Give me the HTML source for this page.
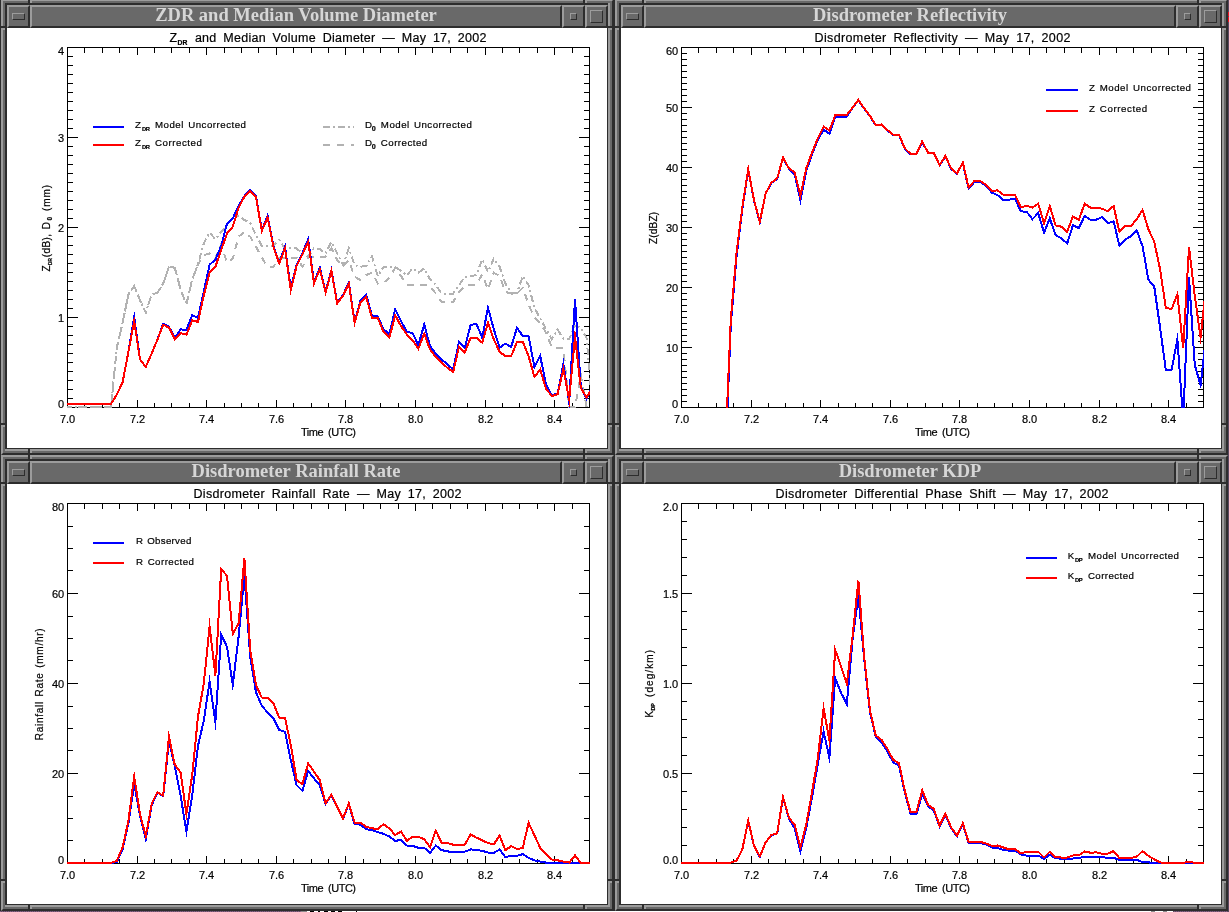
<!DOCTYPE html>
<html lang="en"><head><meta charset="utf-8"><title>Disdrometer plots</title>
<style>
html,body{margin:0;padding:0}
body{width:1229px;height:912px;overflow:hidden;position:relative;background:#2d2d2d;font-family:"Liberation Serif",serif}
.pg{position:absolute;left:0;top:0;width:1229px;height:912px;overflow:hidden;background:#2d2d2d}
.pb{position:absolute;left:0;top:911px;width:1229px;height:1px;background:repeating-linear-gradient(90deg,#865c86 0 1px,#5e525e 1px 2px)}
.pb i{position:absolute;top:0;height:1px;display:block}
.pr{position:absolute;left:1228px;top:0;width:1px;height:912px;background:#5a4860}
.pr i{position:absolute;left:0;width:1px;background:#f01020}
.win{position:absolute;width:613px;height:456px;background:#696969;box-sizing:border-box}
.win u{position:absolute;display:block;text-decoration:none}
/* outer bevel */
.win:before{content:"";position:absolute;left:0;top:0;right:0;bottom:0;box-sizing:border-box;border:2px solid;border-color:#9c9c9c #2d2d2d #2d2d2d #9c9c9c}
.tb{position:absolute;left:4px;top:4px;width:604px;height:25px;background:#2d2d2d;box-sizing:border-box}
.cl{position:absolute;left:6px;top:29px;width:600px;height:420px;background:#fff;overflow:hidden}
.cl svg{display:block}
.b{position:absolute;top:2px;height:23px;box-sizing:border-box;background:#696969;border:2px solid;border-color:#9c9c9c #2d2d2d #2d2d2d #9c9c9c}
.bm{left:2px;width:23px}
.tt{position:absolute;left:25px;right:47px;top:2px;height:23px;box-sizing:border-box;background:#696969;border:2px solid;border-color:#9c9c9c #2d2d2d #2d2d2d #9c9c9c;color:#d6d6d6;font-weight:bold;font-size:18.5px;line-height:19px;text-align:center;white-space:nowrap;overflow:hidden}
.tt span{display:inline-block;position:relative;top:-1px}
.bi{right:24px;width:23px}
.bx{right:1px;width:23px}
.b i{position:absolute;display:block;box-sizing:border-box;border:1px solid;border-color:#9c9c9c #2d2d2d #2d2d2d #9c9c9c}
.bm i{left:3px;top:6px;width:13px;height:7px}
.bi i{left:6px;top:6px;width:7px;height:7px}
.bx i{left:3px;top:3px;width:13px;height:13px}
/* inner bevel around client: right & bottom light/dark lines */
.h1{left:6px;top:449px;width:601px;height:1px;background:#2d2d2d}
.h2{left:4px;top:450px;width:605px;height:2px;background:#9c9c9c}
.v1{left:606px;top:29px;width:1px;height:421px;background:#2d2d2d}
.v2{left:607px;top:4px;width:2px;height:448px;background:#9c9c9c}
.h3{left:4px;top:4px;width:605px;height:2px;background:#2d2d2d}
.v3{left:4px;top:4px;width:2px;height:446px;background:#2d2d2d}
.s{background:#2d2d2d}
.s:after{content:"";position:absolute;background:#9c9c9c}
.st{top:0;width:2px;height:6px} .st:after{left:2px;top:0;width:2px;height:4px}
.sb{top:450px;width:2px;height:6px} .sb:after{left:2px;top:0;width:2px;height:4px}
.sl{left:0;width:6px;height:2px} .sl:after{left:0;top:2px;width:4px;height:2px}
.sr{left:607px;width:6px;height:2px} .sr:after{left:0;top:2px;width:4px;height:2px}

</style></head><body><div class="pg">
<div style="position:absolute;left:0;top:0;width:1px;height:912px;background:#2d2d2d"></div>
<div class="win" style="left:1px;top:-1px">
<div class="tb"><div class="b bm"><i></i></div><div class="tt"><span>ZDR and Median Volume Diameter</span></div><div class="b bi"><i></i></div><div class="b bx"><i></i></div></div>
<div class="cl"><svg width="600" height="420" viewBox="0 0 600 420" font-family='"Liberation Sans", sans-serif' fill="#000" stroke="#000" stroke-width="0.2">
<clipPath id="c0"><rect x="60" y="19" width="523" height="361"/></clipPath>
<g shape-rendering="crispEdges" stroke="#000" stroke-width="1" fill="none">
<rect x="60.5" y="19.5" width="522" height="360"/>
<path d="M60.5 379.5v-7.5M60.5 19.5v7.5M77.5 379.5v-5M77.5 19.5v5M95.5 379.5v-5M95.5 19.5v5M112.5 379.5v-5M112.5 19.5v5M130.5 379.5v-7.5M130.5 19.5v7.5M147.5 379.5v-5M147.5 19.5v5M164.5 379.5v-5M164.5 19.5v5M182.5 379.5v-5M182.5 19.5v5M199.5 379.5v-7.5M199.5 19.5v7.5M217.5 379.5v-5M217.5 19.5v5M234.5 379.5v-5M234.5 19.5v5M251.5 379.5v-5M251.5 19.5v5M269.5 379.5v-7.5M269.5 19.5v7.5M286.5 379.5v-5M286.5 19.5v5M304.5 379.5v-5M304.5 19.5v5M321.5 379.5v-5M321.5 19.5v5M338.5 379.5v-7.5M338.5 19.5v7.5M356.5 379.5v-5M356.5 19.5v5M373.5 379.5v-5M373.5 19.5v5M391.5 379.5v-5M391.5 19.5v5M408.5 379.5v-7.5M408.5 19.5v7.5M425.5 379.5v-5M425.5 19.5v5M443.5 379.5v-5M443.5 19.5v5M460.5 379.5v-5M460.5 19.5v5M478.5 379.5v-7.5M478.5 19.5v7.5M495.5 379.5v-5M495.5 19.5v5M512.5 379.5v-5M512.5 19.5v5M530.5 379.5v-5M530.5 19.5v5M547.5 379.5v-7.5M547.5 19.5v7.5M565.5 379.5v-5M565.5 19.5v5M582.5 379.5v-5M582.5 19.5v5M60.5 379.5h10.5M582.5 379.5h-10.5M60.5 370.5h5.5M582.5 370.5h-5.5M60.5 361.5h5.5M582.5 361.5h-5.5M60.5 352.5h5.5M582.5 352.5h-5.5M60.5 343.5h5.5M582.5 343.5h-5.5M60.5 334.5h5.5M582.5 334.5h-5.5M60.5 325.5h5.5M582.5 325.5h-5.5M60.5 316.5h5.5M582.5 316.5h-5.5M60.5 307.5h5.5M582.5 307.5h-5.5M60.5 298.5h5.5M582.5 298.5h-5.5M60.5 289.5h10.5M582.5 289.5h-10.5M60.5 280.5h5.5M582.5 280.5h-5.5M60.5 271.5h5.5M582.5 271.5h-5.5M60.5 262.5h5.5M582.5 262.5h-5.5M60.5 253.5h5.5M582.5 253.5h-5.5M60.5 244.5h5.5M582.5 244.5h-5.5M60.5 235.5h5.5M582.5 235.5h-5.5M60.5 226.5h5.5M582.5 226.5h-5.5M60.5 217.5h5.5M582.5 217.5h-5.5M60.5 208.5h5.5M582.5 208.5h-5.5M60.5 199.5h10.5M582.5 199.5h-10.5M60.5 190.5h5.5M582.5 190.5h-5.5M60.5 181.5h5.5M582.5 181.5h-5.5M60.5 172.5h5.5M582.5 172.5h-5.5M60.5 163.5h5.5M582.5 163.5h-5.5M60.5 154.5h5.5M582.5 154.5h-5.5M60.5 145.5h5.5M582.5 145.5h-5.5M60.5 136.5h5.5M582.5 136.5h-5.5M60.5 127.5h5.5M582.5 127.5h-5.5M60.5 118.5h5.5M582.5 118.5h-5.5M60.5 109.5h10.5M582.5 109.5h-10.5M60.5 100.5h5.5M582.5 100.5h-5.5M60.5 91.5h5.5M582.5 91.5h-5.5M60.5 82.5h5.5M582.5 82.5h-5.5M60.5 73.5h5.5M582.5 73.5h-5.5M60.5 64.5h5.5M582.5 64.5h-5.5M60.5 55.5h5.5M582.5 55.5h-5.5M60.5 46.5h5.5M582.5 46.5h-5.5M60.5 37.5h5.5M582.5 37.5h-5.5M60.5 28.5h5.5M582.5 28.5h-5.5M60.5 19.5h10.5M582.5 19.5h-10.5"/>
</g>
<g clip-path="url(#c0)">
<path d="M57.6 379.0L63.4 379.0L69.2 379.0L75.0 379.0L80.8 379.0L86.6 379.0L92.4 379.0L98.2 379.0L104.0 379.0L109.8 319.7L115.6 294.7L121.4 266.4L127.2 258.0L133.0 272.2L138.8 284.7L144.6 266.4L150.4 265.0L156.2 255.5L162.0 238.8L167.8 239.7L173.6 261.4L179.4 276.4L185.2 251.4L191.0 236.3L196.8 215.4L202.6 204.6L208.4 211.2L214.2 203.7L220.0 197.0L225.8 189.5L231.6 187.9L237.4 192.0L243.2 195.0L249.0 207.1L254.8 217.9L260.6 217.9L266.4 217.9L272.2 212.1L278.0 220.4L283.8 220.4L289.6 220.4L295.4 225.4L301.2 228.7L307.0 220.4L312.8 221.2L318.6 225.4L324.4 214.0L330.2 225.4L336.0 237.1L341.8 220.4L347.6 237.1L353.4 238.7L359.2 237.9L365.0 228.5L370.8 248.0L376.6 238.8L382.4 238.8L388.2 238.8L394.0 243.0L399.8 247.2L405.6 240.5L411.4 244.7L417.2 240.5L423.0 251.4L428.8 257.2L434.6 265.5L440.4 265.5L446.2 265.5L452.0 257.2L457.8 248.9L463.6 248.0L469.4 247.2L475.2 231.3L481.0 243.8L486.8 230.5L492.6 238.8L498.4 255.5L504.2 264.7L510.0 264.7L515.8 248.0L521.6 257.2L527.4 279.7L533.2 290.6L539.0 300.6L544.8 311.4L550.6 301.5L556.4 311.0L562.2 311.0L568.0 297.5L573.8 300.0L579.6 310.0L585.4 379.0" fill="none" stroke="#b2b2b2" stroke-width="2" stroke-linejoin="miter" stroke-miterlimit="10.4" shape-rendering="crispEdges" stroke-dasharray="7 3 2 3"/>
<path d="M57.6 379.0L63.4 379.0L69.2 379.0L75.0 379.0L80.8 379.0L86.6 379.0L92.4 379.0L98.2 379.0L104.0 379.0L109.8 319.7L115.6 294.7L121.4 266.4L127.2 258.0L133.0 272.2L138.8 284.7L144.6 266.4L150.4 265.0L156.2 255.5L162.0 238.8L167.8 239.7L173.6 261.4L179.4 276.4L185.2 251.4L191.0 236.3L196.8 227.1L202.6 225.4L208.4 230.4L214.2 216.2L220.0 234.6L225.8 230.4L231.6 208.7L237.4 203.7L243.2 208.7L249.0 218.7L254.8 229.6L260.6 238.7L266.4 238.7L272.2 229.6L278.0 229.6L283.8 229.6L289.6 229.6L295.4 238.7L301.2 229.6L307.0 228.7L312.8 228.7L318.6 228.7L324.4 220.4L330.2 232.1L336.0 238.7L341.8 232.1L347.6 248.8L353.4 252.1L359.2 247.1L365.0 244.7L370.8 255.5L376.6 254.7L382.4 249.7L388.2 239.7L394.0 248.0L399.8 256.7L405.6 256.7L411.4 256.7L417.2 256.7L423.0 258.0L428.8 265.5L434.6 273.9L440.4 273.9L446.2 273.9L452.0 263.9L457.8 258.0L463.6 256.7L469.4 256.7L475.2 246.3L481.0 261.4L486.8 244.7L492.6 248.0L498.4 263.9L504.2 265.5L510.0 265.5L515.8 259.7L521.6 276.4L527.4 289.7L533.2 294.7L539.0 304.7L544.8 319.4L550.6 319.9L556.4 320.5L562.2 379.0L568.0 379.0L573.8 347.0L579.6 379.0L585.4 379.0" fill="none" stroke="#b2b2b2" stroke-width="2" stroke-linejoin="miter" stroke-miterlimit="10.4" shape-rendering="crispEdges" stroke-dasharray="7 6"/>
<path d="M57.6 376.0L63.4 376.0L69.2 376.0L75.0 376.0L80.8 376.0L86.6 376.0L92.4 376.0L98.2 376.0L104.0 376.0L109.8 366.6L115.6 354.3L121.4 323.9L127.2 288.9L133.0 331.4L138.8 338.9L144.6 325.6L150.4 311.7L156.2 295.6L162.0 298.9L167.8 309.7L173.6 301.4L179.4 301.9L185.2 287.3L191.0 289.8L196.8 263.4L202.6 236.7L208.4 231.7L214.2 217.9L220.0 195.7L225.8 190.4L231.6 177.9L237.4 168.0L243.2 162.0L249.0 168.0L254.8 202.0L260.6 187.9L266.4 217.9L272.2 234.6L278.0 218.7L283.8 260.4L289.6 237.1L295.4 225.1L301.2 211.2L307.0 254.1L312.8 239.6L318.6 263.8L324.4 242.1L330.2 274.9L336.0 267.1L341.8 254.6L347.6 293.8L353.4 272.9L359.2 266.8L365.0 288.0L370.8 288.4L376.6 301.4L382.4 306.1L388.2 281.4L394.0 293.0L399.8 303.9L405.6 305.1L411.4 317.2L417.2 296.4L423.0 318.1L428.8 325.6L434.6 331.4L440.4 336.4L446.2 341.4L452.0 313.9L457.8 319.7L463.6 297.2L469.4 295.6L475.2 309.7L481.0 279.7L486.8 301.4L492.6 319.7L498.4 315.6L504.2 318.9L510.0 299.7L515.8 308.1L521.6 308.1L527.4 338.9L533.2 328.1L539.0 356.4L544.8 367.3L550.6 365.6L556.4 336.0L562.2 374.5L568.0 271.0L573.8 358.5L579.6 371.0L585.4 358.0" fill="none" stroke="#0000ff" stroke-width="2" stroke-linejoin="miter" stroke-miterlimit="10.4" shape-rendering="crispEdges"/>
<path d="M57.6 376.0L63.4 376.0L69.2 376.0L75.0 376.0L80.8 376.0L86.6 376.0L92.4 376.0L98.2 376.0L104.0 376.0L109.8 366.6L115.6 354.3L121.4 323.9L127.2 293.1L133.0 331.4L138.8 338.9L144.6 325.6L150.4 311.7L156.2 296.7L162.0 299.7L167.8 310.9L173.6 305.1L179.4 306.7L185.2 292.2L191.0 293.9L196.8 267.4L202.6 244.6L208.4 238.7L214.2 222.1L220.0 205.4L225.8 198.7L231.6 179.5L237.4 168.7L243.2 162.9L249.0 168.7L254.8 202.9L260.6 189.5L266.4 218.7L272.2 235.4L278.0 220.4L283.8 262.1L289.6 237.9L295.4 226.2L301.2 213.7L307.0 255.4L312.8 241.2L318.6 264.6L324.4 242.9L330.2 275.4L336.0 267.9L341.8 255.4L347.6 294.6L353.4 274.6L359.2 268.8L365.0 290.0L370.8 290.2L376.6 303.9L382.4 309.7L388.2 287.2L394.0 298.1L399.8 306.4L405.6 312.2L411.4 320.6L417.2 305.6L423.0 321.4L428.8 328.9L434.6 334.8L440.4 339.8L446.2 343.9L452.0 318.9L457.8 324.4L463.6 309.7L469.4 309.7L475.2 314.7L481.0 294.7L486.8 311.4L492.6 323.9L498.4 328.1L504.2 328.1L510.0 313.9L515.8 313.9L521.6 328.1L527.4 348.9L533.2 341.4L539.0 360.6L544.8 368.1L550.6 366.1L556.4 341.0L562.2 371.5L568.0 308.5L573.8 359.9L579.6 369.4L585.4 360.0" fill="none" stroke="#ff0000" stroke-width="2" stroke-linejoin="miter" stroke-miterlimit="10.4" shape-rendering="crispEdges"/>
</g>
<text x="162.5" y="14" font-size="12.5" text-anchor="start">Z</text>
<text x="170.5" y="17" font-size="6.8" text-anchor="start" font-weight="bold">DR</text>
<text x="187.9" y="14" font-size="12.5" text-anchor="start" textLength="291.5" lengthAdjust="spacing" word-spacing="3.0">and Median Volume Diameter — May 17, 2002</text>
<text x="60.5" y="395" font-size="11" text-anchor="middle" textLength="15" lengthAdjust="spacing">7.0</text>
<text x="130.5" y="395" font-size="11" text-anchor="middle" textLength="15" lengthAdjust="spacing">7.2</text>
<text x="199.5" y="395" font-size="11" text-anchor="middle" textLength="15" lengthAdjust="spacing">7.4</text>
<text x="269.5" y="395" font-size="11" text-anchor="middle" textLength="15" lengthAdjust="spacing">7.6</text>
<text x="338.5" y="395" font-size="11" text-anchor="middle" textLength="15" lengthAdjust="spacing">7.8</text>
<text x="408.5" y="395" font-size="11" text-anchor="middle" textLength="15" lengthAdjust="spacing">8.0</text>
<text x="478.5" y="395" font-size="11" text-anchor="middle" textLength="15" lengthAdjust="spacing">8.2</text>
<text x="547.5" y="395" font-size="11" text-anchor="middle" textLength="15" lengthAdjust="spacing">8.4</text>
<text x="321.5" y="408" font-size="11" text-anchor="middle" textLength="55" lengthAdjust="spacing" word-spacing="2.5">Time (UTC)</text>
<text x="57" y="380.0" font-size="11" text-anchor="end" textLength="6" lengthAdjust="spacing">0</text>
<text x="57" y="294.0" font-size="11" text-anchor="end" textLength="6" lengthAdjust="spacing">1</text>
<text x="57" y="204.0" font-size="11" text-anchor="end" textLength="6" lengthAdjust="spacing">2</text>
<text x="57" y="114.0" font-size="11" text-anchor="end" textLength="6" lengthAdjust="spacing">3</text>
<text x="57" y="27.0" font-size="11" text-anchor="end" textLength="6" lengthAdjust="spacing">4</text>
<path d="M86 99H117" stroke="#0000ff" stroke-width="2" fill="none" shape-rendering="crispEdges"/>
<path d="M86 117H117" stroke="#ff0000" stroke-width="2" fill="none" shape-rendering="crispEdges"/>
<text x="128" y="100" font-size="9.7" text-anchor="start">Z</text>
<text x="135" y="102.5" font-size="5.8" text-anchor="start" textLength="8" lengthAdjust="spacing" font-weight="bold">DR</text>
<text x="148" y="100" font-size="9.7" text-anchor="start" textLength="91" lengthAdjust="spacing" word-spacing="1.0">Model Uncorrected</text>
<text x="128" y="118" font-size="9.7" text-anchor="start">Z</text>
<text x="135" y="120.5" font-size="5.8" text-anchor="start" textLength="8" lengthAdjust="spacing" font-weight="bold">DR</text>
<text x="148" y="118" font-size="9.7" text-anchor="start" textLength="46.8" lengthAdjust="spacing">Corrected</text>
<path d="M316 99H347" stroke="#b2b2b2" stroke-width="2" fill="none" shape-rendering="crispEdges" stroke-dasharray="7 3 2 3"/>
<path d="M316 117H347" stroke="#b2b2b2" stroke-width="2" fill="none" shape-rendering="crispEdges" stroke-dasharray="7 7"/>
<text x="358" y="100" font-size="9.7" text-anchor="start">D</text>
<text x="364.8" y="102.5" font-size="7.2" text-anchor="start" font-weight="bold">0</text>
<text x="373.8" y="100" font-size="9.7" text-anchor="start" textLength="91" lengthAdjust="spacing" word-spacing="1.0">Model Uncorrected</text>
<text x="358" y="118" font-size="9.7" text-anchor="start">D</text>
<text x="364.8" y="120.5" font-size="7.2" text-anchor="start" font-weight="bold">0</text>
<text x="373.8" y="118" font-size="9.7" text-anchor="start" textLength="46.4" lengthAdjust="spacing">Corrected</text>
<g transform="translate(43 243.4) rotate(-90)"><text x="0" y="0" font-size="10" text-anchor="start">Z</text><text x="6.5" y="2" font-size="4.8" text-anchor="start" font-weight="bold">DR</text><text x="14.2" y="0" font-size="10" text-anchor="start" textLength="35.1" lengthAdjust="spacing" word-spacing="1.0">(dB), D</text><text x="51" y="2" font-size="6.5" text-anchor="start" font-weight="bold">0</text><text x="60.3" y="0" font-size="10" text-anchor="start" textLength="26.3" lengthAdjust="spacing">(mm)</text></g>
</svg></div>
<u class="h1"></u><u class="h2"></u><u class="h3"></u><u class="v1"></u><u class="v2"></u><u class="v3"></u><u class="s st" style="left:27px"></u><u class="s st" style="left:582px"></u><u class="s sb" style="left:27px"></u><u class="s sb" style="left:582px"></u><u class="s sl" style="top:27px"></u><u class="s sl" style="top:424px"></u><u class="s sr" style="top:27px"></u><u class="s sr" style="top:424px"></u>
</div>
<div class="win" style="left:615px;top:-1px">
<div class="tb"><div class="b bm"><i></i></div><div class="tt"><span>Disdrometer Reflectivity</span></div><div class="b bi"><i></i></div><div class="b bx"><i></i></div></div>
<div class="cl"><svg width="600" height="420" viewBox="0 0 600 420" font-family='"Liberation Sans", sans-serif' fill="#000" stroke="#000" stroke-width="0.2">
<clipPath id="c1"><rect x="60" y="19" width="523" height="361"/></clipPath>
<g shape-rendering="crispEdges" stroke="#000" stroke-width="1" fill="none">
<rect x="60.5" y="19.5" width="522" height="360"/>
<path d="M60.5 379.5v-7.5M60.5 19.5v7.5M77.5 379.5v-5M77.5 19.5v5M95.5 379.5v-5M95.5 19.5v5M112.5 379.5v-5M112.5 19.5v5M130.5 379.5v-7.5M130.5 19.5v7.5M147.5 379.5v-5M147.5 19.5v5M164.5 379.5v-5M164.5 19.5v5M182.5 379.5v-5M182.5 19.5v5M199.5 379.5v-7.5M199.5 19.5v7.5M217.5 379.5v-5M217.5 19.5v5M234.5 379.5v-5M234.5 19.5v5M251.5 379.5v-5M251.5 19.5v5M269.5 379.5v-7.5M269.5 19.5v7.5M286.5 379.5v-5M286.5 19.5v5M304.5 379.5v-5M304.5 19.5v5M321.5 379.5v-5M321.5 19.5v5M338.5 379.5v-7.5M338.5 19.5v7.5M356.5 379.5v-5M356.5 19.5v5M373.5 379.5v-5M373.5 19.5v5M391.5 379.5v-5M391.5 19.5v5M408.5 379.5v-7.5M408.5 19.5v7.5M425.5 379.5v-5M425.5 19.5v5M443.5 379.5v-5M443.5 19.5v5M460.5 379.5v-5M460.5 19.5v5M478.5 379.5v-7.5M478.5 19.5v7.5M495.5 379.5v-5M495.5 19.5v5M512.5 379.5v-5M512.5 19.5v5M530.5 379.5v-5M530.5 19.5v5M547.5 379.5v-7.5M547.5 19.5v7.5M565.5 379.5v-5M565.5 19.5v5M582.5 379.5v-5M582.5 19.5v5M60.5 379.5h10.5M582.5 379.5h-10.5M60.5 373.5h5.5M582.5 373.5h-5.5M60.5 367.5h5.5M582.5 367.5h-5.5M60.5 361.5h5.5M582.5 361.5h-5.5M60.5 355.5h5.5M582.5 355.5h-5.5M60.5 349.5h5.5M582.5 349.5h-5.5M60.5 343.5h5.5M582.5 343.5h-5.5M60.5 337.5h5.5M582.5 337.5h-5.5M60.5 331.5h5.5M582.5 331.5h-5.5M60.5 325.5h5.5M582.5 325.5h-5.5M60.5 319.5h10.5M582.5 319.5h-10.5M60.5 313.5h5.5M582.5 313.5h-5.5M60.5 307.5h5.5M582.5 307.5h-5.5M60.5 301.5h5.5M582.5 301.5h-5.5M60.5 295.5h5.5M582.5 295.5h-5.5M60.5 289.5h5.5M582.5 289.5h-5.5M60.5 283.5h5.5M582.5 283.5h-5.5M60.5 277.5h5.5M582.5 277.5h-5.5M60.5 271.5h5.5M582.5 271.5h-5.5M60.5 265.5h5.5M582.5 265.5h-5.5M60.5 259.5h10.5M582.5 259.5h-10.5M60.5 253.5h5.5M582.5 253.5h-5.5M60.5 247.5h5.5M582.5 247.5h-5.5M60.5 241.5h5.5M582.5 241.5h-5.5M60.5 235.5h5.5M582.5 235.5h-5.5M60.5 229.5h5.5M582.5 229.5h-5.5M60.5 223.5h5.5M582.5 223.5h-5.5M60.5 217.5h5.5M582.5 217.5h-5.5M60.5 211.5h5.5M582.5 211.5h-5.5M60.5 205.5h5.5M582.5 205.5h-5.5M60.5 199.5h10.5M582.5 199.5h-10.5M60.5 193.5h5.5M582.5 193.5h-5.5M60.5 187.5h5.5M582.5 187.5h-5.5M60.5 181.5h5.5M582.5 181.5h-5.5M60.5 175.5h5.5M582.5 175.5h-5.5M60.5 169.5h5.5M582.5 169.5h-5.5M60.5 163.5h5.5M582.5 163.5h-5.5M60.5 157.5h5.5M582.5 157.5h-5.5M60.5 151.5h5.5M582.5 151.5h-5.5M60.5 145.5h5.5M582.5 145.5h-5.5M60.5 139.5h10.5M582.5 139.5h-10.5M60.5 133.5h5.5M582.5 133.5h-5.5M60.5 127.5h5.5M582.5 127.5h-5.5M60.5 121.5h5.5M582.5 121.5h-5.5M60.5 115.5h5.5M582.5 115.5h-5.5M60.5 109.5h5.5M582.5 109.5h-5.5M60.5 103.5h5.5M582.5 103.5h-5.5M60.5 97.5h5.5M582.5 97.5h-5.5M60.5 91.5h5.5M582.5 91.5h-5.5M60.5 85.5h5.5M582.5 85.5h-5.5M60.5 79.5h10.5M582.5 79.5h-10.5M60.5 73.5h5.5M582.5 73.5h-5.5M60.5 67.5h5.5M582.5 67.5h-5.5M60.5 61.5h5.5M582.5 61.5h-5.5M60.5 55.5h5.5M582.5 55.5h-5.5M60.5 49.5h5.5M582.5 49.5h-5.5M60.5 43.5h5.5M582.5 43.5h-5.5M60.5 37.5h5.5M582.5 37.5h-5.5M60.5 31.5h5.5M582.5 31.5h-5.5M60.5 25.5h5.5M582.5 25.5h-5.5M60.5 19.5h10.5M582.5 19.5h-10.5"/>
</g>
<g clip-path="url(#c1)">
<path d="M57.6 572.4L63.4 572.4L69.2 572.4L75.0 572.4L80.8 572.4L86.6 572.4L92.4 572.4L98.2 572.4L104.0 442.0L109.8 297.0L115.6 228.0L121.4 181.0L127.2 141.6L133.0 172.5L138.8 194.2L144.6 165.8L150.4 155.0L156.2 150.8L162.0 130.0L167.8 140.5L173.6 146.2L179.4 172.1L185.2 143.0L191.0 126.5L196.8 112.0L202.6 101.7L208.4 105.7L214.2 88.7L220.0 88.7L225.8 88.7L231.6 79.9L237.4 72.1L243.2 80.7L249.0 88.3L254.8 97.4L260.6 96.9L266.4 102.4L272.2 107.1L278.0 107.1L283.8 120.8L289.6 126.3L295.4 126.3L301.2 113.8L307.0 125.0L312.8 125.4L318.6 137.4L324.4 128.3L330.2 141.1L336.0 145.8L341.8 134.9L347.6 160.7L353.4 154.0L359.2 154.0L365.0 157.9L370.8 164.6L376.6 167.1L382.4 172.1L388.2 171.7L394.0 170.7L399.8 183.4L405.6 183.7L411.4 191.2L417.2 185.1L423.0 204.6L428.8 190.4L434.6 207.1L440.4 210.4L446.2 215.4L452.0 197.1L457.8 200.1L463.6 187.9L469.4 191.7L475.2 191.7L481.0 189.1L486.8 195.1L492.6 193.4L498.4 217.4L504.2 211.7L510.0 208.1L515.8 202.6L521.6 218.4L527.4 251.7L533.2 258.4L539.0 298.8L544.8 341.8L550.6 341.8L556.4 311.1L562.2 392.0L568.0 249.5L573.8 337.2L579.6 357.1L585.4 305.7" fill="none" stroke="#0000ff" stroke-width="2" stroke-linejoin="miter" stroke-miterlimit="10.4" shape-rendering="crispEdges"/>
<path d="M57.6 572.0L63.4 572.0L69.2 572.0L75.0 572.0L80.8 572.0L86.6 572.0L92.4 572.0L98.2 572.0L104.0 429.0L109.8 291.0L115.6 224.0L121.4 178.8L127.2 141.2L133.0 172.1L138.8 193.8L144.6 165.4L150.4 154.6L156.2 150.4L162.0 129.6L167.8 140.1L173.6 144.6L179.4 167.9L185.2 140.4L191.0 124.6L196.8 110.4L202.6 98.7L208.4 102.5L214.2 87.4L220.0 87.0L225.8 87.0L231.6 79.5L237.4 71.7L243.2 80.3L249.0 87.9L254.8 97.0L260.6 96.5L266.4 102.0L272.2 106.7L278.0 106.7L283.8 120.4L289.6 125.9L295.4 125.9L301.2 113.4L307.0 124.6L312.8 125.0L318.6 137.0L324.4 127.9L330.2 140.7L336.0 145.4L341.8 134.5L347.6 159.5L353.4 152.9L359.2 152.9L365.0 157.0L370.8 162.9L376.6 162.4L382.4 166.7L388.2 167.1L394.0 167.1L399.8 179.1L405.6 177.9L411.4 179.6L417.2 175.7L423.0 195.4L428.8 177.9L434.6 197.4L440.4 198.7L446.2 203.8L452.0 188.4L457.8 192.1L463.6 175.7L469.4 179.6L475.2 179.6L481.0 180.7L486.8 183.2L492.6 177.9L498.4 203.8L504.2 198.0L510.0 198.0L515.8 190.9L521.6 182.0L527.4 201.4L533.2 213.5L539.0 240.8L544.8 279.6L550.6 281.1L556.4 266.3L562.2 320.3L568.0 219.0L573.8 268.1L579.6 309.5L585.4 255.0" fill="none" stroke="#ff0000" stroke-width="2" stroke-linejoin="miter" stroke-miterlimit="10.4" shape-rendering="crispEdges"/>
</g>
<text x="321.5" y="14" font-size="12.5" text-anchor="middle" textLength="255.8" lengthAdjust="spacing" word-spacing="3.0">Disdrometer Reflectivity — May 17, 2002</text>
<text x="60.5" y="395" font-size="11" text-anchor="middle" textLength="15" lengthAdjust="spacing">7.0</text>
<text x="130.5" y="395" font-size="11" text-anchor="middle" textLength="15" lengthAdjust="spacing">7.2</text>
<text x="199.5" y="395" font-size="11" text-anchor="middle" textLength="15" lengthAdjust="spacing">7.4</text>
<text x="269.5" y="395" font-size="11" text-anchor="middle" textLength="15" lengthAdjust="spacing">7.6</text>
<text x="338.5" y="395" font-size="11" text-anchor="middle" textLength="15" lengthAdjust="spacing">7.8</text>
<text x="408.5" y="395" font-size="11" text-anchor="middle" textLength="15" lengthAdjust="spacing">8.0</text>
<text x="478.5" y="395" font-size="11" text-anchor="middle" textLength="15" lengthAdjust="spacing">8.2</text>
<text x="547.5" y="395" font-size="11" text-anchor="middle" textLength="15" lengthAdjust="spacing">8.4</text>
<text x="321.5" y="408" font-size="11" text-anchor="middle" textLength="55" lengthAdjust="spacing" word-spacing="2.5">Time (UTC)</text>
<text x="57" y="380.0" font-size="11" text-anchor="end" textLength="6.5" lengthAdjust="spacing">0</text>
<text x="57" y="324.0" font-size="11" text-anchor="end" textLength="12.0" lengthAdjust="spacing">10</text>
<text x="57" y="264.0" font-size="11" text-anchor="end" textLength="12.0" lengthAdjust="spacing">20</text>
<text x="57" y="204.0" font-size="11" text-anchor="end" textLength="12.0" lengthAdjust="spacing">30</text>
<text x="57" y="144.0" font-size="11" text-anchor="end" textLength="12.0" lengthAdjust="spacing">40</text>
<text x="57" y="84.0" font-size="11" text-anchor="end" textLength="12.0" lengthAdjust="spacing">50</text>
<text x="57" y="27.0" font-size="11" text-anchor="end" textLength="12.0" lengthAdjust="spacing">60</text>
<path d="M425 62H457" stroke="#0000ff" stroke-width="2" fill="none" shape-rendering="crispEdges"/>
<path d="M425 83H457" stroke="#ff0000" stroke-width="2" fill="none" shape-rendering="crispEdges"/>
<text x="468" y="63" font-size="9.7" text-anchor="start" textLength="102" lengthAdjust="spacing" word-spacing="1.0">Z Model Uncorrected</text>
<text x="468" y="84" font-size="9.7" text-anchor="start" textLength="58.2" lengthAdjust="spacing" word-spacing="1.0">Z Corrected</text>
<g transform="translate(36 200) rotate(-90)"><text x="0" y="0" font-size="10" text-anchor="middle" textLength="32.2" lengthAdjust="spacing">Z(dBZ)</text></g>
</svg></div>
<u class="h1"></u><u class="h2"></u><u class="h3"></u><u class="v1"></u><u class="v2"></u><u class="v3"></u><u class="s st" style="left:27px"></u><u class="s st" style="left:582px"></u><u class="s sb" style="left:27px"></u><u class="s sb" style="left:582px"></u><u class="s sl" style="top:27px"></u><u class="s sl" style="top:424px"></u><u class="s sr" style="top:27px"></u><u class="s sr" style="top:424px"></u>
</div>
<div class="win" style="left:1px;top:455px">
<div class="tb"><div class="b bm"><i></i></div><div class="tt"><span>Disdrometer Rainfall Rate</span></div><div class="b bi"><i></i></div><div class="b bx"><i></i></div></div>
<div class="cl"><svg width="600" height="420" viewBox="0 0 600 420" font-family='"Liberation Sans", sans-serif' fill="#000" stroke="#000" stroke-width="0.2">
<clipPath id="c2"><rect x="60" y="19" width="523" height="361"/></clipPath>
<g shape-rendering="crispEdges" stroke="#000" stroke-width="1" fill="none">
<rect x="60.5" y="19.5" width="522" height="360"/>
<path d="M60.5 379.5v-7.5M60.5 19.5v7.5M77.5 379.5v-5M77.5 19.5v5M95.5 379.5v-5M95.5 19.5v5M112.5 379.5v-5M112.5 19.5v5M130.5 379.5v-7.5M130.5 19.5v7.5M147.5 379.5v-5M147.5 19.5v5M164.5 379.5v-5M164.5 19.5v5M182.5 379.5v-5M182.5 19.5v5M199.5 379.5v-7.5M199.5 19.5v7.5M217.5 379.5v-5M217.5 19.5v5M234.5 379.5v-5M234.5 19.5v5M251.5 379.5v-5M251.5 19.5v5M269.5 379.5v-7.5M269.5 19.5v7.5M286.5 379.5v-5M286.5 19.5v5M304.5 379.5v-5M304.5 19.5v5M321.5 379.5v-5M321.5 19.5v5M338.5 379.5v-7.5M338.5 19.5v7.5M356.5 379.5v-5M356.5 19.5v5M373.5 379.5v-5M373.5 19.5v5M391.5 379.5v-5M391.5 19.5v5M408.5 379.5v-7.5M408.5 19.5v7.5M425.5 379.5v-5M425.5 19.5v5M443.5 379.5v-5M443.5 19.5v5M460.5 379.5v-5M460.5 19.5v5M478.5 379.5v-7.5M478.5 19.5v7.5M495.5 379.5v-5M495.5 19.5v5M512.5 379.5v-5M512.5 19.5v5M530.5 379.5v-5M530.5 19.5v5M547.5 379.5v-7.5M547.5 19.5v7.5M565.5 379.5v-5M565.5 19.5v5M582.5 379.5v-5M582.5 19.5v5M60.5 379.5h10.5M582.5 379.5h-10.5M60.5 356.5h5.5M582.5 356.5h-5.5M60.5 334.5h5.5M582.5 334.5h-5.5M60.5 312.5h5.5M582.5 312.5h-5.5M60.5 289.5h10.5M582.5 289.5h-10.5M60.5 266.5h5.5M582.5 266.5h-5.5M60.5 244.5h5.5M582.5 244.5h-5.5M60.5 222.5h5.5M582.5 222.5h-5.5M60.5 199.5h10.5M582.5 199.5h-10.5M60.5 176.5h5.5M582.5 176.5h-5.5M60.5 154.5h5.5M582.5 154.5h-5.5M60.5 132.5h5.5M582.5 132.5h-5.5M60.5 109.5h10.5M582.5 109.5h-10.5M60.5 86.5h5.5M582.5 86.5h-5.5M60.5 64.5h5.5M582.5 64.5h-5.5M60.5 42.5h5.5M582.5 42.5h-5.5M60.5 19.5h10.5M582.5 19.5h-10.5"/>
</g>
<g clip-path="url(#c2)">
<path d="M57.6 379.0L63.4 379.0L69.2 379.0L75.0 379.0L80.8 379.0L86.6 379.0L92.4 379.0L98.2 379.0L104.0 379.0L109.8 378.1L115.6 365.1L121.4 339.3L127.2 300.1L133.0 331.8L138.8 355.0L144.6 321.4L150.4 308.6L156.2 312.1L162.0 257.5L167.8 282.5L173.6 311.7L179.4 347.5L185.2 311.7L191.0 261.7L196.8 236.7L202.6 197.5L208.4 238.0L214.2 151.0L220.0 162.7L225.8 201.0L231.6 152.7L237.4 91.5L243.2 172.7L249.0 208.5L254.8 221.8L260.6 228.5L266.4 234.4L272.2 246.0L278.0 247.7L283.8 276.1L289.6 301.1L295.4 306.9L301.2 286.9L307.0 294.4L312.8 301.1L318.6 319.9L324.4 311.3L330.2 323.3L336.0 334.9L341.8 320.0L347.6 340.3L353.4 340.6L359.2 345.3L365.0 346.1L370.8 348.1L376.6 349.8L382.4 352.5L388.2 357.0L394.0 355.7L399.8 361.5L405.6 361.9L411.4 363.8L417.2 363.8L423.0 368.8L428.8 361.5L434.6 366.1L440.4 367.4L446.2 368.0L452.0 367.7L457.8 367.7L463.6 365.4L469.4 365.8L475.2 366.9L481.0 368.5L486.8 369.0L492.6 365.4L498.4 373.2L504.2 371.6L510.0 371.9L515.8 370.1L521.6 374.0L527.4 376.3L533.2 377.6L539.0 378.6L544.8 379.0L550.6 379.0L556.4 379.0L562.2 379.0L568.0 379.0L573.8 379.0L579.6 379.0L585.4 379.0" fill="none" stroke="#0000ff" stroke-width="2" stroke-linejoin="miter" stroke-miterlimit="10.4" shape-rendering="crispEdges"/>
<path d="M57.6 379.0L63.4 379.0L69.2 379.0L75.0 379.0L80.8 379.0L86.6 379.0L92.4 379.0L98.2 379.0L104.0 379.0L109.8 376.8L115.6 363.4L121.4 336.8L127.2 292.5L133.0 330.1L138.8 352.2L144.6 320.1L150.4 308.4L156.2 311.7L162.0 252.5L167.8 280.9L173.6 288.4L179.4 330.0L185.2 290.9L191.0 232.5L196.8 199.4L202.6 142.5L208.4 191.5L214.2 85.0L220.0 91.9L225.8 149.8L231.6 139.4L237.4 74.5L243.2 166.1L249.0 201.1L254.8 213.5L260.6 214.0L266.4 219.3L272.2 233.5L278.0 234.0L283.8 261.0L289.6 296.1L295.4 300.2L301.2 279.4L307.0 287.7L312.8 296.1L318.6 319.4L324.4 310.8L330.2 322.8L336.0 334.4L341.8 319.4L347.6 338.6L353.4 338.6L359.2 342.8L365.0 344.4L370.8 344.8L376.6 340.3L382.4 344.4L388.2 351.1L394.0 347.4L399.8 356.8L405.6 352.6L411.4 352.9L417.2 355.2L423.0 363.0L428.8 346.7L434.6 358.8L440.4 359.1L446.2 360.7L452.0 360.7L457.8 360.7L463.6 350.5L469.4 353.6L475.2 356.3L481.0 359.1L486.8 360.4L492.6 351.6L498.4 366.1L504.2 362.2L510.0 365.1L515.8 363.8L521.6 338.8L527.4 351.3L533.2 363.8L539.0 370.1L544.8 375.5L550.6 376.3L556.4 377.6L562.2 378.6L568.0 371.3L573.8 379.0L579.6 379.0L585.4 378.6" fill="none" stroke="#ff0000" stroke-width="2" stroke-linejoin="miter" stroke-miterlimit="10.4" shape-rendering="crispEdges"/>
</g>
<text x="320.5" y="14" font-size="12.5" text-anchor="middle" textLength="268" lengthAdjust="spacing" word-spacing="3.0">Disdrometer Rainfall Rate — May 17, 2002</text>
<text x="60.5" y="395" font-size="11" text-anchor="middle" textLength="15" lengthAdjust="spacing">7.0</text>
<text x="130.5" y="395" font-size="11" text-anchor="middle" textLength="15" lengthAdjust="spacing">7.2</text>
<text x="199.5" y="395" font-size="11" text-anchor="middle" textLength="15" lengthAdjust="spacing">7.4</text>
<text x="269.5" y="395" font-size="11" text-anchor="middle" textLength="15" lengthAdjust="spacing">7.6</text>
<text x="338.5" y="395" font-size="11" text-anchor="middle" textLength="15" lengthAdjust="spacing">7.8</text>
<text x="408.5" y="395" font-size="11" text-anchor="middle" textLength="15" lengthAdjust="spacing">8.0</text>
<text x="478.5" y="395" font-size="11" text-anchor="middle" textLength="15" lengthAdjust="spacing">8.2</text>
<text x="547.5" y="395" font-size="11" text-anchor="middle" textLength="15" lengthAdjust="spacing">8.4</text>
<text x="321.5" y="408" font-size="11" text-anchor="middle" textLength="55" lengthAdjust="spacing" word-spacing="2.5">Time (UTC)</text>
<text x="57" y="380.0" font-size="11" text-anchor="end" textLength="6.5" lengthAdjust="spacing">0</text>
<text x="57" y="294.0" font-size="11" text-anchor="end" textLength="12.0" lengthAdjust="spacing">20</text>
<text x="57" y="204.0" font-size="11" text-anchor="end" textLength="12.0" lengthAdjust="spacing">40</text>
<text x="57" y="114.0" font-size="11" text-anchor="end" textLength="12.0" lengthAdjust="spacing">60</text>
<text x="57" y="27.0" font-size="11" text-anchor="end" textLength="12.0" lengthAdjust="spacing">80</text>
<path d="M86 59H117" stroke="#0000ff" stroke-width="2" fill="none" shape-rendering="crispEdges"/>
<path d="M86 79H117" stroke="#ff0000" stroke-width="2" fill="none" shape-rendering="crispEdges"/>
<text x="129" y="60" font-size="9.7" text-anchor="start" textLength="55.3" lengthAdjust="spacing" word-spacing="1.0">R Observed</text>
<text x="129" y="81" font-size="9.7" text-anchor="start" textLength="57.9" lengthAdjust="spacing" word-spacing="1.0">R Corrected</text>
<g transform="translate(36 200.3) rotate(-90)"><text x="0" y="0" font-size="10" text-anchor="middle" textLength="112" lengthAdjust="spacing" word-spacing="1.0">Rainfall Rate (mm/hr)</text></g>
</svg></div>
<u class="h1"></u><u class="h2"></u><u class="h3"></u><u class="v1"></u><u class="v2"></u><u class="v3"></u><u class="s st" style="left:27px"></u><u class="s st" style="left:582px"></u><u class="s sb" style="left:27px"></u><u class="s sb" style="left:582px"></u><u class="s sl" style="top:27px"></u><u class="s sl" style="top:424px"></u><u class="s sr" style="top:27px"></u><u class="s sr" style="top:424px"></u>
</div>
<div class="win" style="left:615px;top:455px">
<div class="tb"><div class="b bm"><i></i></div><div class="tt"><span>Disdrometer KDP</span></div><div class="b bi"><i></i></div><div class="b bx"><i></i></div></div>
<div class="cl"><svg width="600" height="420" viewBox="0 0 600 420" font-family='"Liberation Sans", sans-serif' fill="#000" stroke="#000" stroke-width="0.2">
<clipPath id="c3"><rect x="60" y="19" width="523" height="361"/></clipPath>
<g shape-rendering="crispEdges" stroke="#000" stroke-width="1" fill="none">
<rect x="60.5" y="19.5" width="522" height="360"/>
<path d="M60.5 379.5v-7.5M60.5 19.5v7.5M77.5 379.5v-5M77.5 19.5v5M95.5 379.5v-5M95.5 19.5v5M112.5 379.5v-5M112.5 19.5v5M130.5 379.5v-7.5M130.5 19.5v7.5M147.5 379.5v-5M147.5 19.5v5M164.5 379.5v-5M164.5 19.5v5M182.5 379.5v-5M182.5 19.5v5M199.5 379.5v-7.5M199.5 19.5v7.5M217.5 379.5v-5M217.5 19.5v5M234.5 379.5v-5M234.5 19.5v5M251.5 379.5v-5M251.5 19.5v5M269.5 379.5v-7.5M269.5 19.5v7.5M286.5 379.5v-5M286.5 19.5v5M304.5 379.5v-5M304.5 19.5v5M321.5 379.5v-5M321.5 19.5v5M338.5 379.5v-7.5M338.5 19.5v7.5M356.5 379.5v-5M356.5 19.5v5M373.5 379.5v-5M373.5 19.5v5M391.5 379.5v-5M391.5 19.5v5M408.5 379.5v-7.5M408.5 19.5v7.5M425.5 379.5v-5M425.5 19.5v5M443.5 379.5v-5M443.5 19.5v5M460.5 379.5v-5M460.5 19.5v5M478.5 379.5v-7.5M478.5 19.5v7.5M495.5 379.5v-5M495.5 19.5v5M512.5 379.5v-5M512.5 19.5v5M530.5 379.5v-5M530.5 19.5v5M547.5 379.5v-7.5M547.5 19.5v7.5M565.5 379.5v-5M565.5 19.5v5M582.5 379.5v-5M582.5 19.5v5M60.5 379.5h10.5M582.5 379.5h-10.5M60.5 361.5h5.5M582.5 361.5h-5.5M60.5 343.5h5.5M582.5 343.5h-5.5M60.5 325.5h5.5M582.5 325.5h-5.5M60.5 307.5h5.5M582.5 307.5h-5.5M60.5 289.5h10.5M582.5 289.5h-10.5M60.5 271.5h5.5M582.5 271.5h-5.5M60.5 253.5h5.5M582.5 253.5h-5.5M60.5 235.5h5.5M582.5 235.5h-5.5M60.5 217.5h5.5M582.5 217.5h-5.5M60.5 199.5h10.5M582.5 199.5h-10.5M60.5 181.5h5.5M582.5 181.5h-5.5M60.5 163.5h5.5M582.5 163.5h-5.5M60.5 145.5h5.5M582.5 145.5h-5.5M60.5 127.5h5.5M582.5 127.5h-5.5M60.5 109.5h10.5M582.5 109.5h-10.5M60.5 91.5h5.5M582.5 91.5h-5.5M60.5 73.5h5.5M582.5 73.5h-5.5M60.5 55.5h5.5M582.5 55.5h-5.5M60.5 37.5h5.5M582.5 37.5h-5.5M60.5 19.5h10.5M582.5 19.5h-10.5"/>
</g>
<g clip-path="url(#c3)">
<path d="M57.6 379.2L63.4 379.2L69.2 379.2L75.0 379.2L80.8 379.2L86.6 379.2L92.4 379.2L98.2 379.2L104.0 379.2L109.8 378.7L115.6 376.7L121.4 365.3L127.2 336.7L133.0 362.0L138.8 372.8L144.6 358.6L150.4 351.1L156.2 349.5L162.0 313.2L167.8 334.3L173.6 344.3L179.4 367.0L185.2 344.3L191.0 313.4L196.8 280.0L202.6 247.5L208.4 274.0L214.2 194.0L220.0 208.8L225.8 220.0L231.6 155.4L237.4 111.2L243.2 175.4L249.0 228.5L254.8 253.0L260.6 258.4L266.4 267.5L272.2 278.4L278.0 281.7L283.8 308.4L289.6 330.1L295.4 330.4L301.2 310.1L307.0 322.1L312.8 326.7L318.6 342.4L324.4 331.0L330.2 344.3L336.0 352.3L341.8 340.4L347.6 359.1L353.4 359.1L359.2 359.1L365.0 360.4L370.8 363.5L376.6 364.1L382.4 366.1L388.2 366.6L394.0 366.6L399.8 370.5L405.6 371.6L411.4 371.9L417.2 371.6L423.0 374.7L428.8 370.8L434.6 374.3L440.4 374.7L446.2 375.5L452.0 374.5L457.8 374.1L463.6 372.6L469.4 372.8L475.2 372.8L481.0 372.8L486.8 374.1L492.6 373.9L498.4 375.8L504.2 375.8L510.0 375.8L515.8 375.8L521.6 378.0L527.4 378.4L533.2 379.0L539.0 379.0L544.8 379.0L550.6 379.0L556.4 379.0L562.2 379.0L568.0 378.5L573.8 379.0L579.6 379.0L585.4 379.0" fill="none" stroke="#0000ff" stroke-width="2" stroke-linejoin="miter" stroke-miterlimit="10.4" shape-rendering="crispEdges"/>
<path d="M57.6 379.0L63.4 379.0L69.2 379.0L75.0 379.0L80.8 379.0L86.6 379.0L92.4 379.0L98.2 379.0L104.0 379.0L109.8 378.5L115.6 376.5L121.4 365.1L127.2 336.5L133.0 361.8L138.8 372.6L144.6 358.4L150.4 350.9L156.2 349.3L162.0 313.0L167.8 333.4L173.6 340.9L179.4 363.0L185.2 340.9L191.0 308.4L196.8 274.2L202.6 224.5L208.4 256.5L214.2 165.8L220.0 182.1L225.8 200.0L231.6 152.1L237.4 96.6L243.2 172.9L249.0 226.5L254.8 251.7L260.6 255.9L266.4 265.0L272.2 275.9L278.0 279.2L283.8 306.7L289.6 328.4L295.4 328.4L301.2 306.2L307.0 320.9L312.8 324.9L318.6 341.6L324.4 329.8L330.2 343.5L336.0 351.5L341.8 339.2L347.6 357.9L353.4 357.6L359.2 357.9L365.0 359.4L370.8 361.9L376.6 361.5L382.4 363.5L388.2 365.4L394.0 365.1L399.8 369.3L405.6 367.7L411.4 368.2L417.2 367.7L423.0 373.5L428.8 367.7L434.6 373.2L440.4 373.5L446.2 373.5L452.0 371.5L457.8 371.3L463.6 367.4L469.4 368.7L475.2 368.4L481.0 369.7L486.8 369.7L492.6 367.1L498.4 374.1L504.2 373.9L510.0 374.1L515.8 372.6L521.6 367.1L527.4 371.9L533.2 375.2L539.0 378.4L544.8 379.0L550.6 379.0L556.4 379.0L562.2 379.0L568.0 377.5L573.8 379.0L579.6 379.0L585.4 379.0" fill="none" stroke="#ff0000" stroke-width="2" stroke-linejoin="miter" stroke-miterlimit="10.4" shape-rendering="crispEdges"/>
</g>
<text x="321" y="14" font-size="12.5" text-anchor="middle" textLength="333" lengthAdjust="spacing" word-spacing="3.0">Disdrometer Differential Phase Shift — May 17, 2002</text>
<text x="60.5" y="395" font-size="11" text-anchor="middle" textLength="15" lengthAdjust="spacing">7.0</text>
<text x="130.5" y="395" font-size="11" text-anchor="middle" textLength="15" lengthAdjust="spacing">7.2</text>
<text x="199.5" y="395" font-size="11" text-anchor="middle" textLength="15" lengthAdjust="spacing">7.4</text>
<text x="269.5" y="395" font-size="11" text-anchor="middle" textLength="15" lengthAdjust="spacing">7.6</text>
<text x="338.5" y="395" font-size="11" text-anchor="middle" textLength="15" lengthAdjust="spacing">7.8</text>
<text x="408.5" y="395" font-size="11" text-anchor="middle" textLength="15" lengthAdjust="spacing">8.0</text>
<text x="478.5" y="395" font-size="11" text-anchor="middle" textLength="15" lengthAdjust="spacing">8.2</text>
<text x="547.5" y="395" font-size="11" text-anchor="middle" textLength="15" lengthAdjust="spacing">8.4</text>
<text x="321.5" y="408" font-size="11" text-anchor="middle" textLength="55" lengthAdjust="spacing" word-spacing="2.5">Time (UTC)</text>
<text x="57" y="380.0" font-size="11" text-anchor="end" textLength="14.899999999999999" lengthAdjust="spacing">0.0</text>
<text x="57" y="294.0" font-size="11" text-anchor="end" textLength="14.899999999999999" lengthAdjust="spacing">0.5</text>
<text x="57" y="204.0" font-size="11" text-anchor="end" textLength="14.899999999999999" lengthAdjust="spacing">1.0</text>
<text x="57" y="114.0" font-size="11" text-anchor="end" textLength="14.899999999999999" lengthAdjust="spacing">1.5</text>
<text x="57" y="27.0" font-size="11" text-anchor="end" textLength="14.899999999999999" lengthAdjust="spacing">2.0</text>
<path d="M405 74H436" stroke="#0000ff" stroke-width="2" fill="none" shape-rendering="crispEdges"/>
<path d="M405 94H436" stroke="#ff0000" stroke-width="2" fill="none" shape-rendering="crispEdges"/>
<text x="446.7" y="75" font-size="9.7" text-anchor="start">K</text>
<text x="454" y="77.5" font-size="5.8" text-anchor="start" textLength="7.6" lengthAdjust="spacing" font-weight="bold">DP</text>
<text x="466.9" y="75" font-size="9.7" text-anchor="start" textLength="91.1" lengthAdjust="spacing" word-spacing="1.0">Model Uncorrected</text>
<text x="446.7" y="95" font-size="9.7" text-anchor="start">K</text>
<text x="454" y="97.5" font-size="5.8" text-anchor="start" textLength="7.6" lengthAdjust="spacing" font-weight="bold">DP</text>
<text x="466.9" y="95" font-size="9.7" text-anchor="start" textLength="46" lengthAdjust="spacing">Corrected</text>
<g transform="translate(32 233.5) rotate(-90)"><text x="0" y="0" font-size="10" text-anchor="start">K</text><text x="6.9" y="2" font-size="5.4" text-anchor="start" font-weight="bold">DP</text><text x="20.5" y="0" font-size="10" text-anchor="start" textLength="47" lengthAdjust="spacing">(deg/km)</text></g>
</svg></div>
<u class="h1"></u><u class="h2"></u><u class="h3"></u><u class="v1"></u><u class="v2"></u><u class="v3"></u><u class="s st" style="left:27px"></u><u class="s st" style="left:582px"></u><u class="s sb" style="left:27px"></u><u class="s sb" style="left:582px"></u><u class="s sl" style="top:27px"></u><u class="s sl" style="top:424px"></u><u class="s sr" style="top:27px"></u><u class="s sr" style="top:424px"></u>
</div>
<div class="pb"><i style="left:301px;width:6px;background:#8a8a8a"></i><i style="left:307px;width:3px;background:#fff"></i><i style="left:310px;width:4px;background:#000"></i><i style="left:314px;width:4px;background:#fff"></i><i style="left:318px;width:2px;background:#000"></i><i style="left:320px;width:4px;background:#fff"></i><i style="left:324px;width:4px;background:#000"></i><i style="left:328px;width:3px;background:#fff"></i><i style="left:331px;width:4px;background:#000"></i><i style="left:335px;width:3px;background:#fff"></i><i style="left:338px;width:4px;background:#000"></i><i style="left:342px;width:14px;background:#fff"></i><i style="left:356px;width:1px;background:#000"></i><i style="left:357px;width:794px;background:#fff"></i><i style="left:1151px;width:4px;background:#8a8a8a"></i><i style="left:1155px;width:8px;background:#fff"></i><i style="left:1163px;width:4px;background:#8a8a8a"></i><i style="left:1167px;width:6px;background:#fff"></i></div><div class="pr"><i style="top:12px;height:4px"></i><i style="top:17px;height:5px"></i></div>
</div></body></html>
